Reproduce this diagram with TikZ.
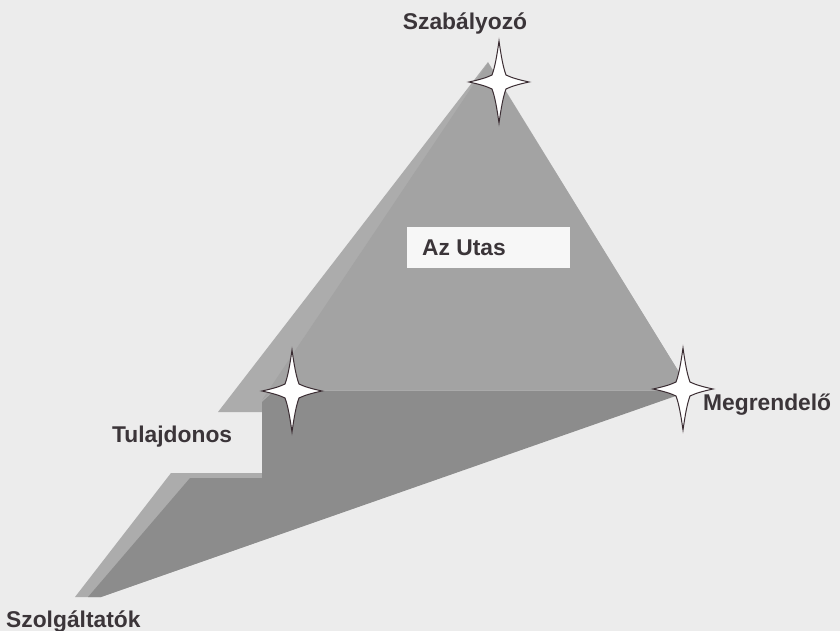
\documentclass[tikz,border=0pt]{standalone}
\usepackage{fontspec}
\setmainfont{Liberation Sans}
\definecolor{bgc}{HTML}{ECECEC}
\definecolor{lightband}{HTML}{ACACAC}
\definecolor{midgrey}{HTML}{A3A3A3}
\definecolor{darkgrey}{HTML}{8C8C8C}
\definecolor{boxwhite}{HTML}{F7F7F7}
\definecolor{txt}{HTML}{3B3539}
\definecolor{starline}{HTML}{3A2C32}
\tikzset{
  lbl/.style={inner sep=0pt, text=txt, font=\fontsize{22.8}{26}\selectfont\bfseries},
  starpath/.style={draw=starline, fill=white, line width=1pt, line join=miter},
  star4/.pic={
    \path[starpath] (0,-41) .. controls (2,-27) and (4,-15) .. (7,-7)
      .. controls (13,-4) and (21,-2) .. (30,0)
      .. controls (21,2) and (13,4) .. (7,7)
      .. controls (4,15) and (2,27) .. (0,41)
      .. controls (-2,27) and (-4,15) .. (-7,7)
      .. controls (-13,4) and (-21,2) .. (-30,0)
      .. controls (-21,-2) and (-13,-4) .. (-7,-7)
      .. controls (-4,-15) and (-2,-27) .. cycle;
  }
}
\begin{document}
\begin{tikzpicture}[x=1pt,y=-1pt]
\useasboundingbox (0,0) rectangle (840,631);
\fill[bgc] (0,0) rectangle (840,631);
% silhouette (light band)
\fill[lightband] (488,62) -- (690,390) -- (101,597) -- (75,597) -- (171,473)
  -- (262,473) -- (262,412) -- (218,412) -- cycle;
% upper triangle face
\fill[midgrey] (488,63) -- (690,390) -- (274,390) -- (262,400) -- cycle;
% lower dark band
\fill[darkgrey] (274,391) -- (690,391) -- (101,597) -- (88,597) -- (190,478)
  -- (262,478) -- (262,402) -- cycle;
% label box
\fill[boxwhite] (407,227) rectangle (570,268);
% labels
\node[lbl, anchor=base] (szab) at (465,30) {Szabályozó};
\node[lbl, anchor=base west] (utas) at (422,255) {Az Utas};
\node[lbl, anchor=base west] (megr) at (703,410) {Megrendelő};
\node[lbl, anchor=base west] (tula) at (112,442) {Tulajdonos};
\node[lbl, anchor=base west] (szol) at (6,627) {Szolgáltatók};
% stars
\pic (starTop) at (499,82) {star4};
\pic (starLeft) at (292,391) {star4};
\pic (starRight) at (683,389) {star4};
\end{tikzpicture}
\end{document}
